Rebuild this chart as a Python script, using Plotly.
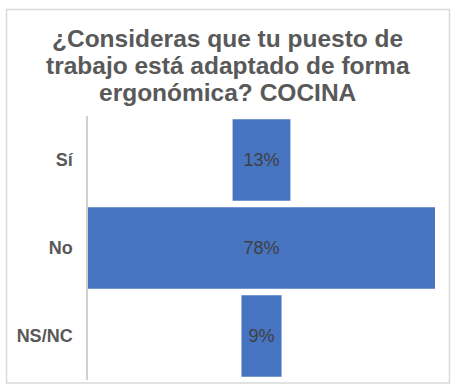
import plotly.graph_objects as go

# Survey answers (percent of respondents)
categories = ["Sí", "No", "NS/NC"]
values = [13, 78, 9]
title_lines = [
    "¿Consideras que tu puesto de",
    "trabajo está adaptado de forma",
    "ergonómica? COCINA",
]

W, H = 453, 386
L, R, T, B = 88, 18, 116, 6
plot_w = W - L - R
plot_h = H - T - B


def px_x(x):
    return (x - L) / plot_w


def px_y(y):
    return (H - B - y) / plot_h


fig = go.Figure(
    go.Funnel(
        y=categories,
        x=values,
        marker=dict(color="#4674C1", line=dict(width=0)),
        connector=dict(visible=False),
        texttemplate="%{x}%",
        textposition="inside",
        insidetextanchor="middle",
        textfont=dict(family="Liberation Sans, Arial", size=18, color="#404040"),
        hoverinfo="skip",
    )
)

# Title, one annotation per line for tight line spacing
for i, line in enumerate(title_lines):
    fig.add_annotation(
        text=f"<b>{line}</b>",
        xref="paper", yref="paper",
        x=px_x(W / 2 + 1), y=px_y(38.5 + i * 26.8),
        xanchor="center", yanchor="middle",
        showarrow=False,
        font=dict(family="Liberation Sans, Arial", size=24.5, color="#595959"),
    )

# Chart frame
fig.add_shape(
    type="rect", xref="paper", yref="paper",
    x0=px_x(6.5), x1=px_x(449.5), y0=px_y(383), y1=px_y(9.5),
    line=dict(color="#D9D9D9", width=1.5), fillcolor="rgba(0,0,0,0)",
    layer="below",
)

fig.update_layout(
    width=W, height=H,
    margin=dict(l=L, r=R, t=T, b=B, pad=0),
    paper_bgcolor="white", plot_bgcolor="white",
    showlegend=False,
    funnelgap=0.074,
    xaxis=dict(range=[-39, 39], visible=False, fixedrange=True),
    yaxis=dict(
        showline=True, linecolor="#D0D0D0", linewidth=1.5,
        showgrid=False, ticks="", ticklabelstandoff=10,
        tickfont=dict(family="Liberation Sans, Arial", size=18, color="#595959", weight="bold"),
    ),
)

fig.write_html("out.html")
